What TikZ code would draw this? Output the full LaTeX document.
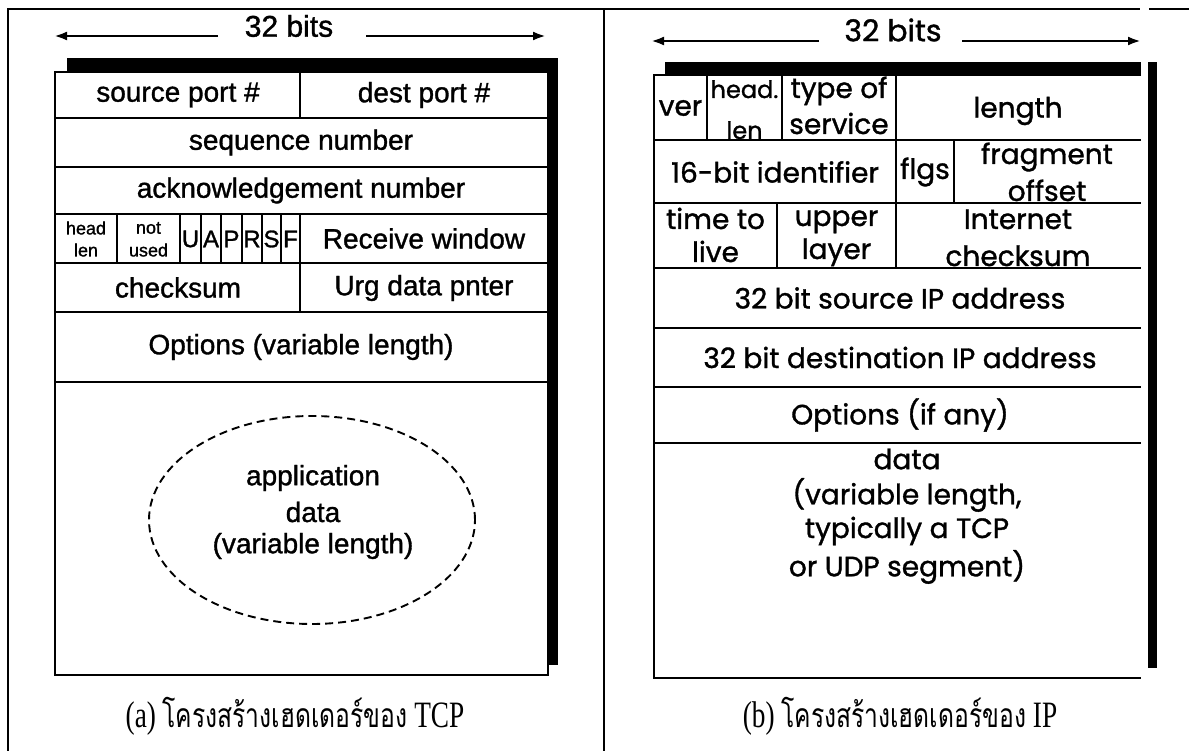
\documentclass[tikz,border=0pt]{standalone}
\usepackage{fontspec}
\setmainfont{Liberation Serif}
\newfontfamily\arialf[FakeBold=1.2]{Liberation Sans}
\newfontfamily\comicf[FakeBold=1.2]{Poppins}
\newfontfamily\thaifont[Script=Thai]{Loma}
\usetikzlibrary{arrows.meta,shapes.geometric}
\begin{document}
\begin{tikzpicture}[x=1pt,y=-1pt,
  framel/.style={line width=1.5pt},
  boxline/.style={line width=2.4pt},
  arr/.style={line width=2.6pt,-{Latex[length=13pt,width=9pt]}},
  tcpt/.style={font=\arialf\fontsize{28}{30}\selectfont,inner sep=0pt},
  tcps/.style={font=\arialf\fontsize{18}{19}\selectfont,inner sep=0pt},
  tcpf/.style={font=\arialf\fontsize{24}{26}\selectfont,inner sep=0pt},
  ipt/.style={font=\comicf\fontsize{28}{30}\selectfont,inner sep=0pt},
  ipn/.style={font=\comicf\fontsize{24}{26}\selectfont,inner sep=0pt},
  captxt/.style={font=\fontsize{31}{33}\selectfont,inner sep=0pt},
  dashell/.style={draw,ellipse,line width=1.9pt,dash pattern=on 8pt off 5pt,inner sep=0pt}]
\useasboundingbox (0,0) rectangle (1189,751);
% outer frame
\draw[framel] (8,751) -- (8,9) -- (1140,9);
\draw[framel] (1149,9) -- (1189,9);
\draw[framel] (604,9) -- (604,751);

% ================= TCP =================
\node[tcpt,font=\arialf\fontsize{30}{32}\selectfont] (tbits) at (289,26) {32 bits};
\coordinate (tl0) at (218,36); \coordinate (tl1) at (54,36);
\coordinate (tr0) at (366,36); \coordinate (tr1) at (546,36);
\draw[arr] (tl0) -- (tl1);
\draw[arr] (tr0) -- (tr1);
\fill (67,58) rectangle (558,665);
\filldraw[fill=white,boxline] (55,72) rectangle (548,675);
\foreach \yy in {118,167,214,263,312,382} \draw[boxline] (55,\yy) -- (548,\yy);
\draw[boxline] (300,72) -- (300,118);
\foreach \xx in {117,180,201,221,242,262,281,300} \draw[boxline] (\xx,214) -- (\xx,263);
\draw[boxline] (300,263) -- (300,312);
\node[tcpt] (srcp) at (178,95) {source port \#};
\node[tcpt] (dstp) at (424,95) {dest port \#};
\node[tcpt] (seqn) at (301,142.5) {sequence number};
\node[tcpt] (ackn) at (301,190.5) {acknowledgement number};
\node[tcps] (hl1) at (86,228) {head};
\node[tcps] (hl2) at (86,250) {len};
\node[tcps] (nu1) at (148.5,228) {not};
\node[tcps] (nu2) at (148.5,250) {used};
\node[tcpf] (fu) at (190.5,239) {U};
\node[tcpf] (fa) at (211,239) {A};
\node[tcpf] (fp) at (231.5,239) {P};
\node[tcpf] (fr) at (252,239) {R};
\node[tcpf] (fs) at (271.5,239) {S};
\node[tcpf] (ff) at (290.5,239) {F};
\node[tcpt] (rwin) at (424,238.5) {Receive window};
\node[tcpt] (csum) at (178,287.5) {checksum};
\node[tcpt] (urg) at (424,288) {Urg data pnter};
\node[tcpt] (opts) at (301,347) {Options (variable length)};
\node[dashell,minimum width=326pt,minimum height=208pt] (appell) at (312,520) {};
\node[tcpt] (ap1) at (313,478) {application};
\node[tcpt] (ap2) at (313,512) {data};
\node[tcpt] (ap3) at (313,546) {(variable length)};
\node[captxt] (capa) at (295,716) {\scalebox{0.88}[1.2]{(a) {\thaifont\fontsize{28}{30}\selectfont โครงสร้างเฮดเดอร์ของ} TCP}};

% ================= IP =================
\node[ipt,font=\comicf\fontsize{30}{32}\selectfont] (ibits) at (893,30) {32 bits};
\coordinate (il0) at (819,41); \coordinate (il1) at (651,41);
\coordinate (ir0) at (962,41); \coordinate (ir1) at (1141,41);
\draw[arr] (il0) -- (il1);
\draw[arr] (ir0) -- (ir1);
\fill (665,62) rectangle (1141,75);
\fill (1148,62) rectangle (1157,668);
\draw[boxline] (1141,75) -- (654,75) -- (654,678) -- (1141,678);
\foreach \yy in {140,203,268,328,387,443} \draw[boxline] (654,\yy) -- (1141,\yy);
\foreach \xx in {707,782,896} \draw[boxline] (\xx,75) -- (\xx,140);
\foreach \xx in {896,954} \draw[boxline] (\xx,140) -- (\xx,203);
\foreach \xx in {777,896} \draw[boxline] (\xx,203) -- (\xx,268);
\node[ipt] (ver) at (680.5,108) {ver};
\node[ipn,anchor=base] (hd1) at (744.5,98) {head.};
\node[ipn,anchor=base] (hd2) at (744.5,139) {len};
\node[ipt,anchor=base] (tos1) at (839,98) {type of};
\node[ipt,anchor=base] (tos2) at (839,134) {service};
\node[ipt] (len) at (1018,111) {length};
\node[ipt] (ident) at (775,172) {16-bit identifier};
\node[ipt] (flgs) at (925,172) {flgs};
\node[ipt,anchor=base] (fo1) at (1047,164) {fragment};
\node[ipt,anchor=base] (fo2) at (1047,201) {offset};
\node[ipt,anchor=base] (ttl1) at (715.5,229) {time to};
\node[ipt,anchor=base] (ttl2) at (715.5,262) {live};
\node[ipt,anchor=base] (ul1) at (836.5,226) {upper};
\node[ipt,anchor=base] (ul2) at (836.5,259) {layer};
\node[ipt,anchor=base] (ic1) at (1018,229) {Internet};
\node[ipt,anchor=base] (ic2) at (1018,266) {checksum};
\node[ipt] (sip) at (900,298) {32 bit source IP address};
\node[ipt] (dip) at (900,357.5) {32 bit destination IP address};
\node[ipt] (iopt) at (900,415) {Options (if any)};
\node[ipt] (d1) at (907,459) {data};
\node[ipt] (d2) at (907,495) {(variable length,};
\node[ipt] (d3) at (907,531) {typically a TCP};
\node[ipt] (d4) at (907,567) {or UDP segment)};
\node[captxt] (capb) at (900,716) {\scalebox{0.88}[1.2]{(b) {\thaifont\fontsize{28}{30}\selectfont โครงสร้างเฮดเดอร์ของ} IP}};
\end{tikzpicture}
\end{document}
